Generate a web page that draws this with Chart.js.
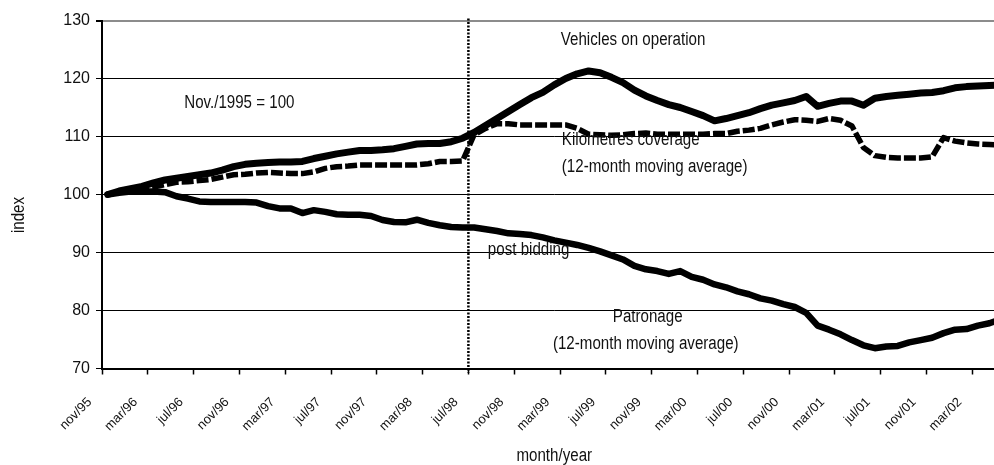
<!DOCTYPE html>
<html>
<head>
<meta charset="utf-8">
<style>
  html, body { margin: 0; padding: 0; overflow: hidden; background: #ffffff; }
  #wrap { width: 1008px; height: 465px; }
</style>
<script src="https://cdn.jsdelivr.net/npm/chart.js@4.4.1/dist/chart.umd.min.js"></script>
</head>
<body>
<div id="wrap"><canvas id="c" width="1008" height="465"></canvas></div>
<script>
// ---------- data ----------
const months = [
  'nov/95','dec/95',
  'jan/96','feb/96','mar/96','apr/96','may/96','jun/96','jul/96','aug/96','sep/96','oct/96','nov/96','dec/96',
  'jan/97','feb/97','mar/97','apr/97','may/97','jun/97','jul/97','aug/97','sep/97','oct/97','nov/97','dec/97',
  'jan/98','feb/98','mar/98','apr/98','may/98','jun/98','jul/98','aug/98','sep/98','oct/98','nov/98','dec/98',
  'jan/99','feb/99','mar/99','apr/99','may/99','jun/99','jul/99','aug/99','sep/99','oct/99','nov/99','dec/99',
  'jan/00','feb/00','mar/00','apr/00','may/00','jun/00','jul/00','aug/00','sep/00','oct/00','nov/00','dec/00',
  'jan/01','feb/01','mar/01','apr/01','may/01','jun/01','jul/01','aug/01','sep/01','oct/01','nov/01','dec/01',
  'jan/02','feb/02','mar/02','apr/02','may/02'
];

const vehicles = [
  100, 100.6, 101.0, 101.4, 102.0, 102.5, 102.8, 103.1, 103.4, 103.7,
  104.2, 104.8, 105.2, 105.4, 105.5, 105.6, 105.6, 105.7, 106.2, 106.6,
  107.0, 107.3, 107.6, 107.6, 107.7, 107.9, 108.3, 108.7, 108.8, 108.8,
  109.1, 109.7, 110.7, 111.9, 113.1, 114.3, 115.5, 116.7, 117.6, 118.9,
  120.0, 120.8, 121.3, 121.0, 120.2, 119.3, 118.0, 117.0, 116.2, 115.5,
  115.0, 114.3, 113.6, 112.7, 113.1, 113.6, 114.1, 114.8, 115.4, 115.8,
  116.2, 116.9, 115.2, 115.7, 116.1, 116.1, 115.4, 116.6, 116.9, 117.1,
  117.3, 117.5, 117.6, 117.9, 118.4, 118.6, 118.7, 118.8, 118.9
];

const kilometres = [
  100, 100.4, 100.7, 101.0, 101.3, 101.7, 102.1, 102.2, 102.4, 102.6,
  103.0, 103.4, 103.5, 103.7, 103.8, 103.7, 103.6, 103.6, 103.9, 104.5,
  104.8, 104.9, 105.1, 105.1, 105.1, 105.1, 105.1, 105.1, 105.3, 105.7,
  105.7, 105.8, 110.3, 111.4, 112.2, 112.2, 112.0, 112.0, 112.0, 112.0,
  112.0, 111.4, 110.4, 110.3, 110.2, 110.3, 110.5, 110.6, 110.4, 110.4,
  110.4, 110.4, 110.4, 110.5, 110.5, 110.9, 111.1, 111.4, 112.0, 112.5,
  112.9, 112.8, 112.6, 113.1, 112.8, 111.8, 108.1, 106.7, 106.4, 106.3,
  106.3, 106.3, 106.5, 109.8, 109.2, 108.9, 108.7, 108.6, 108.5
];

const patronage = [
  100, 100.3, 100.5, 100.5, 100.5, 100.4, 99.7, 99.3, 98.8, 98.7,
  98.7, 98.7, 98.7, 98.6, 98.0, 97.6, 97.6, 96.8, 97.3, 97.0,
  96.6, 96.5, 96.5, 96.3, 95.6, 95.25, 95.2, 95.65, 95.1, 94.7,
  94.4, 94.3, 94.3, 94.0, 93.7, 93.3, 93.2, 93.0, 92.6, 92.1,
  91.7, 91.3, 90.8, 90.2, 89.5, 88.8, 87.7, 87.1, 86.8, 86.3,
  86.8, 85.8, 85.3, 84.5, 84.0, 83.3, 82.8, 82.1, 81.7, 81.1,
  80.6, 79.6, 77.4, 76.7, 75.9, 74.9, 74.0, 73.5, 73.8, 73.9,
  74.5, 74.9, 75.3, 76.1, 76.7, 76.8, 77.4, 77.8, 78.5
];

const yMin = 70;
const yMax = 130;
const yStep = 10;
const labelEvery = 4;
const biddingMonth = 'jul/98';
const yTitle = 'index';
const xTitle = 'month/year';

// text notes placed in data space: month index (fractional) and index value
const notes = [
  { text: 'Nov./1995 = 100',           month: 6.68,  value: 115.72, align: 'left' },
  { text: 'Vehicles on operation',     month: 39.57, value: 126.6,  align: 'left' },
  { text: 'Kilometres coverage',       month: 39.66, value: 109.35, align: 'left' },
  { text: '(12-month moving average)', month: 39.66, value: 104.75, align: 'left' },
  { text: 'post bidding',              month: 33.2,  value: 90.5,   align: 'left' },
  { text: 'Patronage',                 month: 47.16, value: 78.93,  align: 'center' },
  { text: '(12-month moving average)', month: 46.99, value: 74.3,   align: 'center' }
];

// ---------- styling ----------
const REGULAR = "'Liberation Sans', Arial, sans-serif";
const NOTE_FONT = '18px ' + REGULAR;
const SQUEEZE = 0.84; // horizontal compression to mimic a narrow face

const extrasPlugin = {
  id: 'extras',
  beforeDatasetsDraw(chart) {
    const { ctx, chartArea, scales } = chart;
    const x = scales.x;
    const idx = months.indexOf(biddingMonth);
    const px = (x.getPixelForValue(idx - 1) + x.getPixelForValue(idx)) / 2;
    ctx.save();
    ctx.strokeStyle = '#000';
    ctx.lineWidth = 2.5;
    ctx.setLineDash([2, 1.5]);
    ctx.beginPath();
    ctx.moveTo(px, chartArea.top - 2);
    ctx.lineTo(px, chartArea.bottom + 4);
    ctx.stroke();
    ctx.restore();
  },
  afterDatasetsDraw(chart) {
    const { ctx, scales } = chart;
    const x = scales.x, y = scales.y;
    notes.forEach(n => {
      ctx.save();
      ctx.fillStyle = '#111';
      ctx.font = NOTE_FONT;
      ctx.textBaseline = 'middle';
      ctx.textAlign = n.align;
      ctx.translate(x.getPixelForValue(n.month), y.getPixelForValue(n.value));
      ctx.scale(SQUEEZE, 1);
      ctx.fillText(n.text, 0, 0);
      ctx.restore();
    });
  },
  afterDraw(chart) {
    const { ctx, chartArea } = chart;
    ctx.save();
    ctx.fillStyle = '#111';
    ctx.font = NOTE_FONT;
    ctx.textAlign = 'center';
    ctx.textBaseline = 'middle';
    ctx.translate((chartArea.left + chartArea.right) / 2, 456.5);
    ctx.scale(SQUEEZE, 1);
    ctx.fillText(xTitle, 0, 0);
    ctx.restore();

    ctx.save();
    ctx.fillStyle = '#111';
    ctx.font = NOTE_FONT;
    ctx.textAlign = 'center';
    ctx.textBaseline = 'middle';
    ctx.translate(19, 215);
    ctx.rotate(-Math.PI / 2);
    ctx.scale(SQUEEZE, 1);
    ctx.fillText(yTitle, 0, 0);
    ctx.restore();
  }
};

const lineBase = {
  pointRadius: 0,
  pointHoverRadius: 0,
  tension: 0,
  fill: false,
  borderColor: '#000',
  borderJoinStyle: 'round'
};

new Chart(document.getElementById('c'), {
  type: 'line',
  data: {
    labels: months,
    datasets: [
      Object.assign({}, lineBase, { label: 'Vehicles on operation', data: vehicles, borderWidth: 7, borderCapStyle: 'round', order: 1 }),
      Object.assign({}, lineBase, { label: 'Patronage', data: patronage, borderWidth: 6.5, borderCapStyle: 'round', order: 2 }),
      Object.assign({}, lineBase, { label: 'Kilometres coverage', data: kilometres, borderWidth: 5.5, borderDash: [12, 3], borderCapStyle: 'butt', order: 3 })
    ]
  },
  options: {
    responsive: false,
    animation: false,
    devicePixelRatio: 1,
    layout: { padding: { top: 20.5, right: 1.45, left: 0, bottom: 0 } },
    plugins: { legend: { display: false }, tooltip: { enabled: false }, title: { display: false } },
    scales: {
      x: {
        type: 'category',
        offset: true,
        grid: {
          offset: true,
          drawOnChartArea: false,
          drawTicks: true,
          tickLength: 6,
          tickWidth: 1.5,
          tickColor: (c) => (c.index % labelEvery === 0 ? '#000' : 'rgba(0,0,0,0)'),
          color: 'rgba(0,0,0,0)'
        },
        border: { display: true, color: '#000', width: 2 },
        ticks: {
          autoSkip: false,
          maxRotation: 45,
          minRotation: 45,
          padding: 20,
          labelOffset: -18,
          color: '#111',
          font: { family: REGULAR, size: 13 },
          callback: (v, i) => (i % labelEvery === 0 ? months[i] : '')
        },
        afterFit: (s) => { s.height = 96.5; s.paddingLeft = 0; s.paddingRight = 0; }
      },
      y: {
        min: yMin,
        max: yMax,
        grid: {
          drawTicks: true,
          tickLength: 6,
          tickColor: '#000',
          color: (c) => (c.tick && c.tick.value === yMax ? '#8c8c8c' : '#000'),
          lineWidth: (c) => (c.tick && c.tick.value === yMax ? 2 : 1)
        },
        border: { display: true, color: '#000', width: 2 },
        ticks: {
          stepSize: yStep,
          padding: 6,
          color: '#111',
          font: { family: REGULAR, size: 16 }
        },
        afterFit: (s) => { s.width = 102; s.paddingTop = 0; s.paddingBottom = 0; }
      }
    }
  },
  plugins: [extrasPlugin]
});
</script>
</body>
</html>
